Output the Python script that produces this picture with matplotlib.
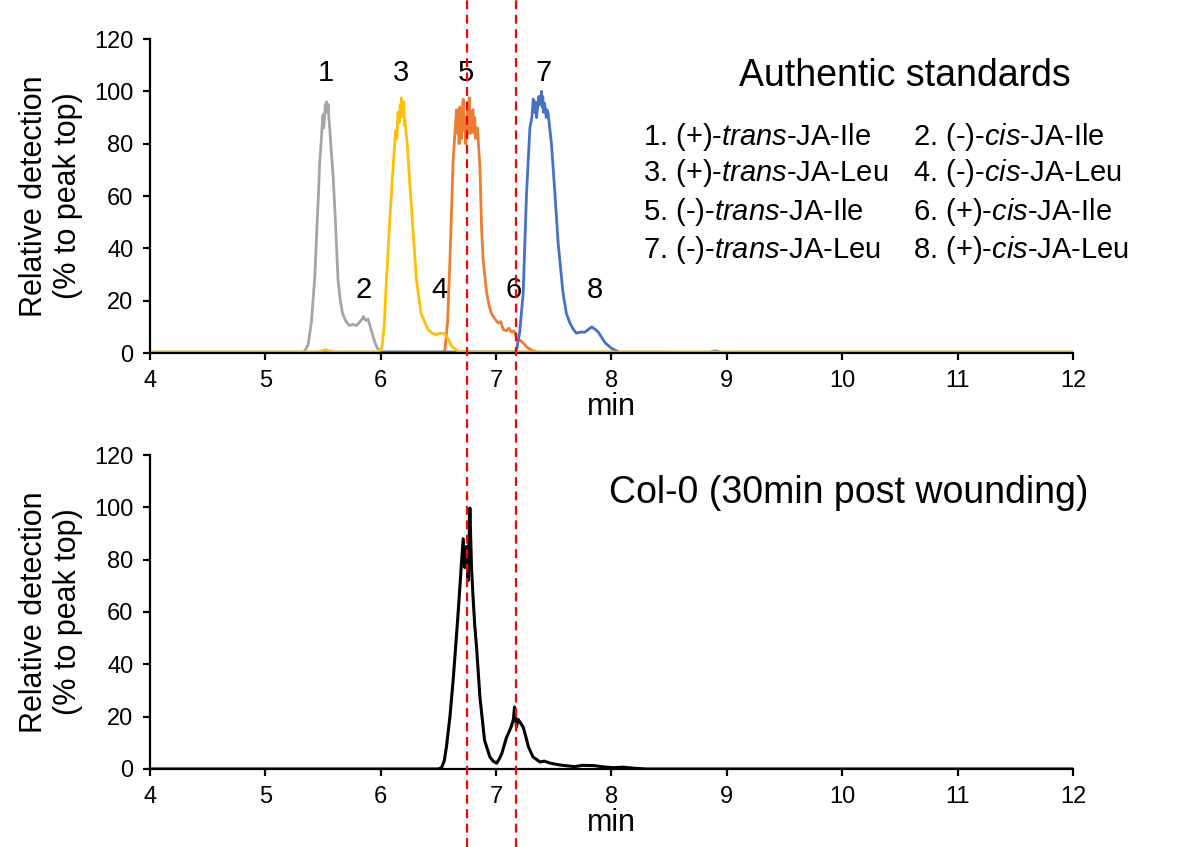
import matplotlib
matplotlib.use("Agg")
import matplotlib.pyplot as plt
from matplotlib.lines import Line2D
import matplotlib.transforms as mtransforms

plt.rcParams['font.family'] = ['Liberation Sans', 'DejaVu Sans']
plt.rcParams['mathtext.fontset'] = 'custom'
plt.rcParams['mathtext.rm'] = 'Liberation Sans'
plt.rcParams['mathtext.it'] = 'Liberation Sans:italic'

# ---- data (min, % of peak top) ----
# standard 1 + 2 (grey)
t_grey = [4.0, 5.33, 5.37, 5.40, 5.43, 5.445, 5.46, 5.47, 5.48, 5.49, 5.50, 5.505, 5.51, 5.52, 5.525,
          5.53, 5.54, 5.545, 5.55, 5.56, 5.57, 5.59, 5.61, 5.63, 5.65, 5.67, 5.70, 5.73, 5.76, 5.79,
          5.82, 5.84, 5.85, 5.87, 5.89, 5.91, 5.93, 5.95, 5.97, 6.00, 12.0]
y_grey = [0, 0, 3, 12, 30, 46, 60, 72, 78, 85, 91, 86, 88, 95, 92,
          96, 93, 95, 90, 85, 78, 66, 48, 28, 20, 15, 12, 10.5, 11, 10.5,
          12, 13, 14, 12.5, 13, 10, 7, 4, 2, 0.5, 0]

# standard 5 + 6 (orange)
t_orange = [4.0, 6.52, 6.556, 6.58, 6.60, 6.628, 6.657, 6.665, 6.672, 6.68, 6.686, 6.693, 6.70, 6.707,
            6.715, 6.723, 6.73, 6.737, 6.744, 6.75, 6.755, 6.762, 6.767, 6.774, 6.78, 6.788, 6.795,
            6.80, 6.808, 6.816, 6.823, 6.83, 6.838, 6.845, 6.86, 6.874, 6.888, 6.918, 6.94, 6.961,
            6.99, 7.018, 7.04, 7.062, 7.09, 7.11, 7.134, 7.155, 7.177, 7.205, 7.235, 7.27, 7.307,
            7.38, 12.0]
y_orange = [0, 0, 1, 12, 35.5, 74, 93, 84, 88, 80, 94, 86, 82, 92,
            97, 85, 90, 80, 86, 93, 95, 84, 97.5, 88, 84, 86, 92,
            93, 84, 90, 82, 84, 86, 81.5, 71, 48, 35.5, 23, 18, 15,
            13, 11.5, 12, 9, 8.5, 9.5, 8, 8.5, 6, 5, 3.8, 2.2, 1.1,
            0, 0]

# standard 7 + 8 (blue)
t_blue = [4.0, 7.15, 7.177, 7.205, 7.235, 7.264, 7.293, 7.31, 7.322, 7.335, 7.342, 7.35, 7.36, 7.37,
          7.38, 7.394, 7.40, 7.405, 7.41, 7.42, 7.435, 7.44, 7.45, 7.465, 7.48, 7.51, 7.538, 7.58,
          7.61, 7.64, 7.67, 7.697, 7.73, 7.77, 7.80, 7.83, 7.86, 7.886, 7.943, 8.0, 8.07, 8.85,
          8.9, 8.95, 12.0]
y_blue = [0.3, 0.3, 1, 8, 23, 61, 86, 90, 97, 92, 96, 90, 94, 98,
          95, 100, 94, 98, 92, 95.5, 90, 93, 92, 86, 80, 61, 42, 23,
          15, 11.5, 9, 7.6, 8, 8, 9, 10, 9, 8, 4, 1.8, 0.3, 0.3,
          0.8, 0.3, 0.3]

# standard 3 + 4 (yellow)
t_yellow = [4.0, 5.45, 5.52, 5.60, 5.98, 6.01, 6.03, 6.05, 6.08, 6.11, 6.13, 6.14, 6.15, 6.16, 6.17,
            6.175, 6.18, 6.185, 6.19, 6.20, 6.205, 6.21, 6.23, 6.25, 6.28, 6.31, 6.35, 6.41, 6.45,
            6.48, 6.51, 6.54, 6.56, 6.58, 6.62, 6.68, 6.75, 12.0]
y_yellow = [0.4, 0.4, 1.2, 0.4, 0.4, 2, 10, 28, 52, 73, 85, 82, 92, 88, 95,
            90, 97.5, 92, 94, 96, 87, 89, 80, 66, 47, 28, 15, 9, 7.5,
            7, 7.5, 7.6, 7, 5.7, 2.3, 0.6, 0.4, 0.4]

# Col-0, 30 min post wounding (black)
t_col0 = [4.0, 6.50, 6.527, 6.55, 6.57, 6.60, 6.628, 6.65, 6.671, 6.69, 6.70, 6.715, 6.729, 6.744,
          6.758, 6.773, 6.787, 6.80, 6.815, 6.83, 6.86, 6.90, 6.946, 6.975, 7.004, 7.03, 7.05,
          7.07, 7.09, 7.11, 7.13, 7.15, 7.16, 7.177, 7.19, 7.206, 7.22, 7.235, 7.26, 7.28, 7.32,
          7.38, 7.42, 7.47, 7.52, 7.56, 7.62, 7.68, 7.75, 7.85, 7.93, 8.02, 8.10, 8.19, 8.3, 12.0]
y_col0 = [0, 0, 0.5, 3, 8.5, 20, 34, 47, 59.6, 72, 78.7, 88, 77, 85,
          72, 99.7, 77, 66, 55, 47, 27.5, 11, 4.6, 3, 2.2, 4, 6,
          9, 12, 14, 16, 19, 23.7, 16, 19, 18, 17, 16, 12, 8.5, 4.6,
          2.7, 3, 2.2, 1.8, 1.5, 1.2, 0.9, 1.4, 1.3, 0.8, 0.5, 0.7, 0.3, 0, 0]

ref_lines = [6.75, 7.17]

peak_labels = ['1', '2', '3', '4', '5', '6', '7', '8']
peak_label_x = [5.525, 5.85, 6.18, 6.51, 6.74, 7.15, 7.41, 7.86]
peak_label_y = [107, 24, 107, 24, 107, 24, 107, 24]

standards = [r'1. (+)-$\mathit{trans}$-JA-Ile', r'2. (-)-$\mathit{cis}$-JA-Ile',
             r'3. (+)-$\mathit{trans}$-JA-Leu', r'4. (-)-$\mathit{cis}$-JA-Leu',
             r'5. (-)-$\mathit{trans}$-JA-Ile', r'6. (+)-$\mathit{cis}$-JA-Ile',
             r'7. (-)-$\mathit{trans}$-JA-Leu', r'8. (+)-$\mathit{cis}$-JA-Leu']

fig = plt.figure(figsize=(11.77, 8.47), dpi=100)
ax1 = fig.add_axes([0.1274, 0.5832, 0.7842, 0.3707])
ax2 = fig.add_axes([0.1274, 0.0921, 0.7842, 0.3707])

ax1.plot(t_grey, y_grey, color='#a5a5a5', lw=2.0)
ax1.plot(t_orange, y_orange, color='#ed7d31', lw=2.0)
ax1.plot(t_blue, y_blue, color='#4472c4', lw=2.0)
ax1.plot(t_yellow, y_yellow, color='#ffc000', lw=2.0)
ax2.plot(t_col0, y_col0, color='black', lw=2.2)

for ax in (ax1, ax2):
    ax.set_xlim(4, 12)
    ax.set_ylim(0, 120)
    ax.set_xticks(range(4, 13))
    ax.set_yticks(range(0, 121, 20))
    ax.spines['top'].set_visible(False)
    ax.spines['right'].set_visible(False)
    ax.spines['left'].set_linewidth(1.6)
    ax.spines['bottom'].set_linewidth(1.6)
    ax.tick_params(direction='out', length=5, width=1.6, labelsize=17, pad=7)
    ax.set_xlabel('min', fontsize=22, labelpad=0)
    ax.set_ylabel('Relative detection\n(% to peak top)', fontsize=22, labelpad=8, linespacing=1.15)

for lab, x, y in zip(peak_labels, peak_label_x, peak_label_y):
    ax1.text(x, y, lab, fontsize=21, ha='center', va='center')

ax1.text(10.54, 106, 'Authentic standards', fontsize=27, ha='center', va='center')
col_x = [8.27, 10.61]
row_y = [82.6, 68.8, 53.9, 39.4]
for i, s in enumerate(standards):
    ax1.text(col_x[i % 2], row_y[i // 2], s, fontsize=21, ha='left', va='center')

ax2.text(10.06, 105.5, 'Col-0 (30min post wounding)', fontsize=27, ha='center', va='center')

# dashed reference lines running through both panels
trans = mtransforms.blended_transform_factory(ax1.transData, fig.transFigure)
for xr in ref_lines:
    fig.add_artist(Line2D([xr, xr], [0, 1], transform=trans, color='red',
                          lw=1.6, ls=(0, (4, 2.5))))

fig.savefig('out.png', dpi=100)
